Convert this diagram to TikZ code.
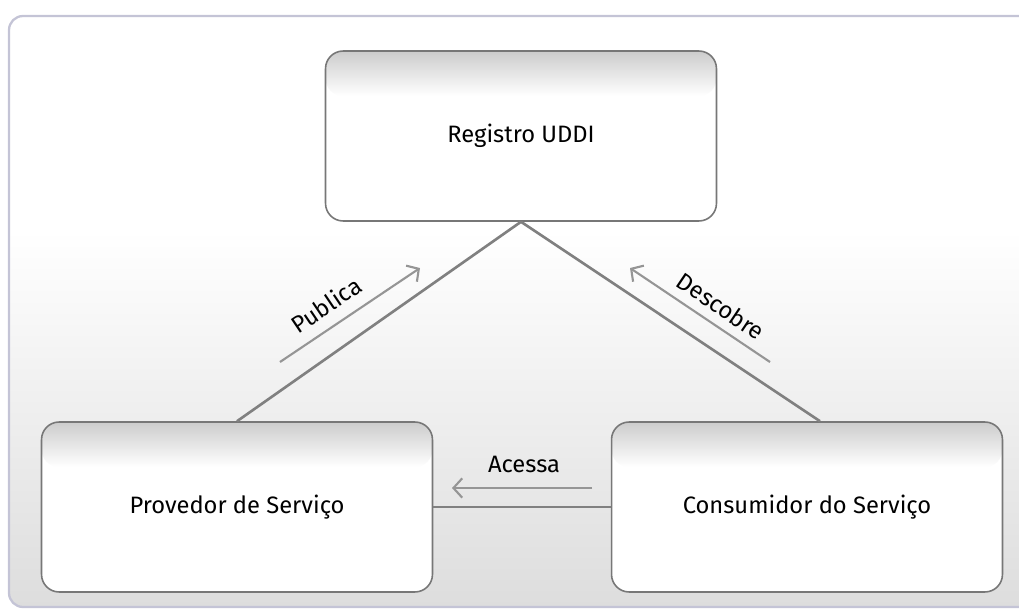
\documentclass[tikz,border=0pt]{standalone}
\usepackage{fontspec}
\setmainfont{Fira Sans}
\usetikzlibrary{arrows.meta, positioning}

\definecolor{framecol}{HTML}{C4C4D6}
\definecolor{edgecol}{HTML}{777777}
\definecolor{linecol}{HTML}{808080}
\definecolor{arrowcol}{HTML}{959595}
\definecolor{boxtop}{HTML}{CCCCCC}
\definecolor{bgbottom}{HTML}{DDDDDD}

\tikzset{
  entity/.style={draw=edgecol, line width=0.9pt, rounded corners=10pt,
    minimum width=7.82cm, minimum height=3.4cm, font=\fontsize{13.5}{15}\selectfont,
    path picture={
      \fill[white] (path picture bounding box.south west) rectangle (path picture bounding box.north east);
      \shade[top color=boxtop, bottom color=white] (path picture bounding box.north west)
        rectangle ([yshift=-0.9cm]path picture bounding box.north east);
    }},
  link/.style={draw=linecol, line width=1.5pt},
  flow/.style={draw=arrowcol, line width=1.2pt, -{Straight Barb[length=5pt, width=11pt]}},
  tag/.style={font=\fontsize{13.5}{15}\selectfont, inner sep=1pt}
}

\begin{document}
\begin{tikzpicture}[x=0.02cm, y=-0.02cm]
  \useasboundingbox (0,0) rectangle (1019,609);

  % background frame
  \begin{scope}
    \clip[rounded corners=8pt] (9,16) rectangle (1040,607);
    \fill[white] (9,16) rectangle (1040,607);
    \shade[top color=white, bottom color=bgbottom] (9,230) rectangle (1040,607);
  \end{scope}
  \draw[framecol, line width=1.3pt, rounded corners=8pt] (9,16) rectangle (1040,607);

  % the three parties
  \node[entity] (reg) at (521,136) {Registro UDDI};
  \node[entity] (prov) at (237,507) {Provedor de Serviço};
  \node[entity] (cons) at (807,507) {Consumidor do Serviço};

  % links
  \draw[link] (reg.south) -- (prov.north);
  \draw[link] (reg.south) -- ([xshift=0.26cm]cons.north);
  \draw[link] (prov.east) -- (cons.west);

  % labelled arrows
  \coordinate (pubA) at (280,362);
  \coordinate (pubB) at (420,268);
  \coordinate (desA) at (770,362);
  \coordinate (desB) at (630,268);
  \coordinate (aceA) at (592,488);
  \coordinate (aceB) at (452,488);

  \draw[flow] (pubA) -- (pubB);
  \draw[flow] (desA) -- (desB);
  \draw[flow] (aceA) -- (aceB);

  \node[tag, rotate=34] (pub) at (326,305) {Publica};
  \node[tag, rotate=-34] (des) at (721,306) {Descobre};
  \node[tag] (ace) at (524,464) {Acessa};
\end{tikzpicture}
\end{document}
